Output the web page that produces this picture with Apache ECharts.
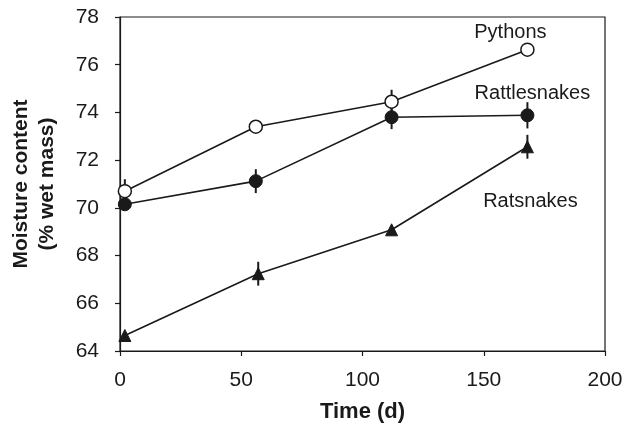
<!DOCTYPE html>
<html>
<head>
<meta charset="utf-8">
<script src="https://cdn.jsdelivr.net/npm/echarts@6/dist/echarts.min.js"></script>
<style>
html,body{margin:0;padding:0;background:#fff;}
#chart{width:633px;height:428px;}
</style>
</head>
<body>
<div id="chart"></div>
<script>
const xTicks = [0, 50, 100, 150, 200];
const yTicks = [64, 66, 68, 70, 72, 74, 76, 78];

const days = [2, 56, 112, 168];
const pythons = [70.7, 73.4, 74.45, 76.63];
const pythonsErr = [0.5, 0.2, 0.5, 0.15];

const rattlesnakes = [70.15, 71.12, 73.8, 73.88];
const rattlesnakesErr = [0.2, 0.5, 0.5, 0.55];

const ratsnakesDays = [2, 57, 112, 168];
const ratsnakes = [64.65, 67.24, 69.08, 72.56];
const ratsnakesErr = [0.15, 0.5, 0.15, 0.5];

const seriesNames = ['Pythons', 'Rattlesnakes', 'Ratsnakes'];

const FONT = '"Liberation Sans", Arial, Helvetica, sans-serif';
const INK = '#1a1a1a';

function pts(xs, ys) { return xs.map((x, i) => [x, ys[i]]); }
function errPts(xs, ys, es) { return xs.map((x, i) => [x, ys[i], es[i]]); }

function withLabel(data, name, offset) {
  return data.map((d, i) => {
    if (i !== data.length - 1) return d;
    return {
      value: d,
      label: {
        show: true, formatter: name, position: 'inside', offset: offset,
        color: INK, fontSize: 20, fontFamily: FONT
      }
    };
  });
}

function errorSeries(data) {
  return {
    type: 'custom',
    z: 1,
    silent: true,
    data: data,
    renderItem: function (params, api) {
      const x = api.value(0), y = api.value(1), e = api.value(2);
      const hi = api.coord([x, y + e]);
      const lo = api.coord([x, y - e]);
      return {
        type: 'line',
        shape: { x1: hi[0], y1: hi[1], x2: lo[0], y2: lo[1] },
        style: { stroke: INK, lineWidth: 2 }
      };
    }
  };
}

const chart = echarts.init(document.getElementById('chart'), null, { renderer: 'canvas' });
chart.setOption({
  animation: false,
  backgroundColor: '#fff',
  grid: {
    left: 116, right: 28, top: 17, bottom: 77,
    show: true, borderColor: INK, borderWidth: 1.2, backgroundColor: 'transparent'
  },
  xAxis: {
    type: 'value', min: xTicks[0], max: xTicks[xTicks.length - 1], interval: 50,
    name: 'Time (d)', nameLocation: 'middle', nameGap: 50,
    nameTextStyle: { fontFamily: FONT, fontSize: 22, fontWeight: 'bold', color: INK },
    axisLine: { show: true, lineStyle: { color: INK, width: 1.2 } },
    axisTick: { show: true, inside: false, length: 5, lineStyle: { color: INK, width: 1.2 } },
    axisLabel: { fontFamily: FONT, fontSize: 21, color: INK, margin: 19 },
    splitLine: { show: false }
  },
  yAxis: {
    type: 'value', min: yTicks[0], max: yTicks[yTicks.length - 1], interval: 2,
    name: 'Moisture content\n(% wet mass)', nameLocation: 'middle', nameGap: 60,
    nameTextStyle: { fontFamily: FONT, fontSize: 21, fontWeight: 'bold', color: INK, lineHeight: 26 },
    axisLine: { show: true, lineStyle: { color: INK, width: 1.2 } },
    axisTick: { show: true, inside: false, length: 5, lineStyle: { color: INK, width: 1.2 } },
    axisLabel: { fontFamily: FONT, fontSize: 21, color: INK, margin: 21 },
    splitLine: { show: false }
  },
  series: [
    errorSeries(errPts(days, pythons, pythonsErr)),
    errorSeries(errPts(days, rattlesnakes, rattlesnakesErr)),
    errorSeries(errPts(ratsnakesDays, ratsnakes, ratsnakesErr)),
    {
      name: seriesNames[0], type: 'line', z: 3,
      data: withLabel(pts(days, pythons), seriesNames[0], [-17, -17]),
      symbol: 'circle', symbolSize: 13,
      itemStyle: { color: '#fff', borderColor: INK, borderWidth: 1.5 },
      lineStyle: { color: INK, width: 1.6 }
    },
    {
      name: seriesNames[1], type: 'line', z: 3,
      data: withLabel(pts(days, rattlesnakes), seriesNames[1], [5, -22]),
      symbol: 'circle', symbolSize: 13,
      itemStyle: { color: INK, borderColor: INK, borderWidth: 1 },
      lineStyle: { color: INK, width: 1.6 }
    },
    {
      name: seriesNames[2], type: 'line', z: 3,
      data: withLabel(pts(ratsnakesDays, ratsnakes), seriesNames[2], [3, 55]),
      symbol: 'triangle', symbolSize: 12,
      itemStyle: { color: INK, borderColor: INK, borderWidth: 1 },
      lineStyle: { color: INK, width: 1.6 }
    }
  ]
});
</script>
</body>
</html>
